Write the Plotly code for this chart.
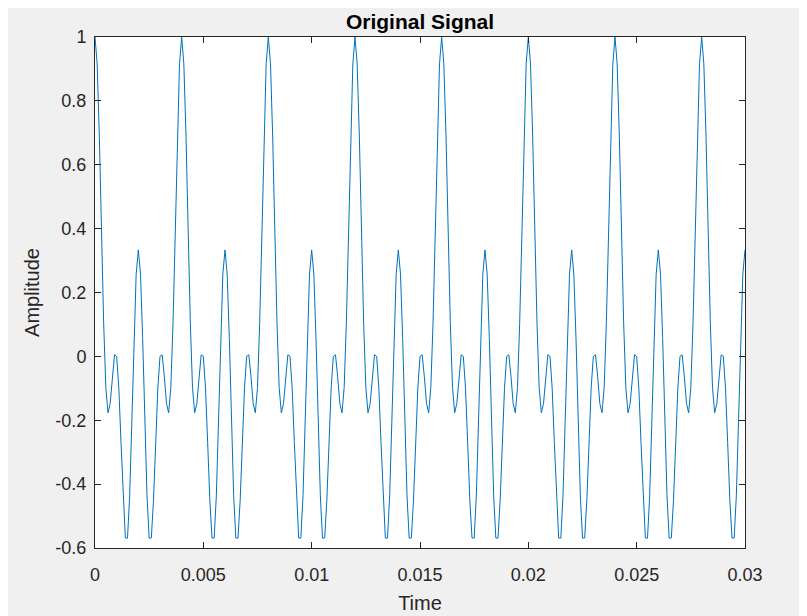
import plotly.graph_objects as go

sample_rate = 10000  # samples per second

amplitude = [
    1.0, 0.9159, 0.6897, 0.3899, 0.1030, -0.0976, -0.1768, -0.1476, -0.0637, 0.0048,
    0.0, -0.0995, -0.2697, -0.4503, -0.5686, -0.5690, -0.4363, -0.2041, 0.0557, 0.2575,
    0.3333, 0.2575, 0.0557, -0.2041, -0.4363, -0.5690, -0.5686, -0.4503, -0.2697, -0.0995,
    0.0, 0.0048, -0.0637, -0.1476, -0.1768, -0.0976, 0.1030, 0.3899, 0.6897, 0.9159,
    1.0, 0.9159, 0.6897, 0.3899, 0.1030, -0.0976, -0.1768, -0.1476, -0.0637, 0.0048,
    0.0, -0.0995, -0.2697, -0.4503, -0.5686, -0.5690, -0.4363, -0.2041, 0.0557, 0.2575,
    0.3333, 0.2575, 0.0557, -0.2041, -0.4363, -0.5690, -0.5686, -0.4503, -0.2697, -0.0995,
    0.0, 0.0048, -0.0637, -0.1476, -0.1768, -0.0976, 0.1030, 0.3899, 0.6897, 0.9159,
    1.0, 0.9159, 0.6897, 0.3899, 0.1030, -0.0976, -0.1768, -0.1476, -0.0637, 0.0048,
    0.0, -0.0995, -0.2697, -0.4503, -0.5686, -0.5690, -0.4363, -0.2041, 0.0557, 0.2575,
    0.3333, 0.2575, 0.0557, -0.2041, -0.4363, -0.5690, -0.5686, -0.4503, -0.2697, -0.0995,
    0.0, 0.0048, -0.0637, -0.1476, -0.1768, -0.0976, 0.1030, 0.3899, 0.6897, 0.9159,
    1.0, 0.9159, 0.6897, 0.3899, 0.1030, -0.0976, -0.1768, -0.1476, -0.0637, 0.0048,
    0.0, -0.0995, -0.2697, -0.4503, -0.5686, -0.5690, -0.4363, -0.2041, 0.0557, 0.2575,
    0.3333, 0.2575, 0.0557, -0.2041, -0.4363, -0.5690, -0.5686, -0.4503, -0.2697, -0.0995,
    0.0, 0.0048, -0.0637, -0.1476, -0.1768, -0.0976, 0.1030, 0.3899, 0.6897, 0.9159,
    1.0, 0.9159, 0.6897, 0.3899, 0.1030, -0.0976, -0.1768, -0.1476, -0.0637, 0.0048,
    0.0, -0.0995, -0.2697, -0.4503, -0.5686, -0.5690, -0.4363, -0.2041, 0.0557, 0.2575,
    0.3333, 0.2575, 0.0557, -0.2041, -0.4363, -0.5690, -0.5686, -0.4503, -0.2697, -0.0995,
    0.0, 0.0048, -0.0637, -0.1476, -0.1768, -0.0976, 0.1030, 0.3899, 0.6897, 0.9159,
    1.0, 0.9159, 0.6897, 0.3899, 0.1030, -0.0976, -0.1768, -0.1476, -0.0637, 0.0048,
    0.0, -0.0995, -0.2697, -0.4503, -0.5686, -0.5690, -0.4363, -0.2041, 0.0557, 0.2575,
    0.3333, 0.2575, 0.0557, -0.2041, -0.4363, -0.5690, -0.5686, -0.4503, -0.2697, -0.0995,
    0.0, 0.0048, -0.0637, -0.1476, -0.1768, -0.0976, 0.1030, 0.3899, 0.6897, 0.9159,
    1.0, 0.9159, 0.6897, 0.3899, 0.1030, -0.0976, -0.1768, -0.1476, -0.0637, 0.0048,
    0.0, -0.0995, -0.2697, -0.4503, -0.5686, -0.5690, -0.4363, -0.2041, 0.0557, 0.2575,
    0.3333, 0.2575, 0.0557, -0.2041, -0.4363, -0.5690, -0.5686, -0.4503, -0.2697, -0.0995,
    0.0, 0.0048, -0.0637, -0.1476, -0.1768, -0.0976, 0.1030, 0.3899, 0.6897, 0.9159,
    1.0, 0.9159, 0.6897, 0.3899, 0.1030, -0.0976, -0.1768, -0.1476, -0.0637, 0.0048,
    0.0, -0.0995, -0.2697, -0.4503, -0.5686, -0.5690, -0.4363, -0.2041, 0.0557, 0.2575,
    0.3333,
]

x_tick_vals = [0, 0.005, 0.01, 0.015, 0.02, 0.025, 0.03]
x_tick_text = ["0", "0.005", "0.01", "0.015", "0.02", "0.025", "0.03"]
y_tick_vals = [-0.6, -0.4, -0.2, 0, 0.2, 0.4, 0.6, 0.8, 1]
y_tick_text = ["-0.6", "-0.4", "-0.2", "0", "0.2", "0.4", "0.6", "0.8", "1"]

font_family = "Liberation Sans, Arial, Helvetica, sans-serif"
axis_color = "#262626"

fig = go.Figure()
fig.add_trace(go.Scatter(
    y=amplitude, x0=0, dx=1 / sample_rate, mode="lines",
    line=dict(color="#0072BD", width=1), showlegend=False,
))

axis_common = dict(
    showline=True, linecolor=axis_color, linewidth=1, mirror="ticks",
    ticks="inside", ticklen=6, tickcolor=axis_color, tickwidth=1,
    showgrid=False, zeroline=False, automargin=False,
    tickfont=dict(family=font_family, size=18, color=axis_color),
)

fig.update_layout(
    width=807, height=616,
    paper_bgcolor="#f0f0f0", plot_bgcolor="white",
    margin=dict(l=87, r=70, t=29, b=76),
    title=dict(text="<b>Original Signal</b>", x=0.5, xref="paper",
               xanchor="center", y=1 - 14 / 616, yanchor="middle",
               font=dict(family=font_family, size=21, color="black")),
    xaxis=dict(range=[0, 0.03], tickvals=x_tick_vals, ticktext=x_tick_text,
               ticklabelstandoff=10,
               title=dict(text="Time", font=dict(family=font_family, size=20, color=axis_color),
                          standoff=12),
               **axis_common),
    yaxis=dict(range=[-0.6, 1], tickvals=y_tick_vals, ticktext=y_tick_text,
               ticklabelstandoff=4,
               title=dict(text="Amplitude", font=dict(family=font_family, size=20, color=axis_color),
                          standoff=10),
               **axis_common),
)

fig.write_html("out.html")
